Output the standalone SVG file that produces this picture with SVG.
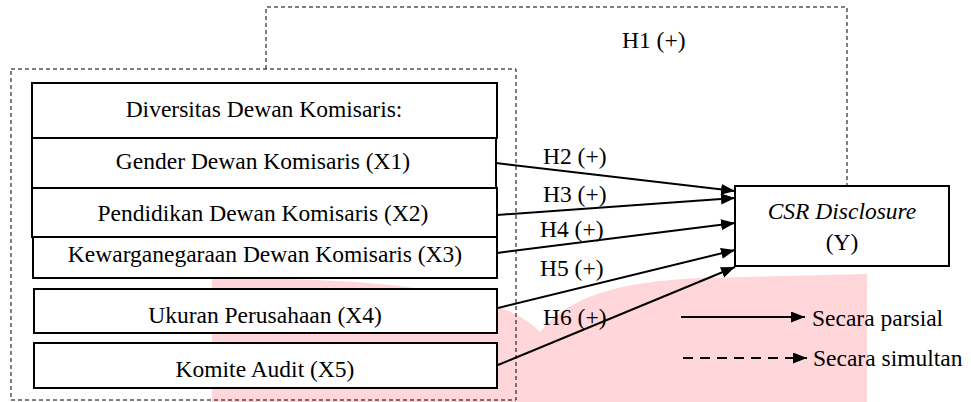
<svg xmlns="http://www.w3.org/2000/svg" width="971" height="402" viewBox="0 0 971 402">
<style>
  text { font-family: "Liberation Serif", "Times New Roman", serif; font-size: 23.5px; fill: #000; }
  .box { fill: #fff; stroke: #000; stroke-width: 2; }
  .dash { fill: none; stroke: #000; stroke-width: 1; stroke-dasharray: 4 3; }
  .arr { fill: none; stroke: #000; stroke-width: 2; marker-end: url(#ah); }
  .mid { text-anchor: middle; }
</style>
<defs>
  <marker id="ah" markerUnits="userSpaceOnUse" markerWidth="15" markerHeight="12" refX="14" refY="5.5" orient="auto">
    <path d="M0,0 L14,5.5 L0,11 Z" fill="#000"/>
  </marker>
</defs>
<rect width="971" height="402" fill="#fff"/>
<path d="M212,278 C380,278 500,290 540,332 C570,295 620,282 700,278 L867,274 L867,402 L212,402 Z" fill="#FFD6D9"/>

<g id="simultan-frame">
  <rect class="dash" x="11" y="69" width="505" height="331"/>
</g>

<g id="node-diversitas">
  <rect class="box" x="32" y="83" width="465" height="55"/>
  <text class="mid" x="264" y="117">Diversitas Dewan Komisaris:</text>
</g>
<g id="node-x1">
  <rect class="box" x="32" y="138" width="464" height="50"/>
  <text class="mid" x="263" y="169">Gender Dewan Komisaris (X1)</text>
</g>
<g id="node-x2">
  <rect class="box" x="32" y="188" width="465" height="49"/>
  <text class="mid" x="263" y="221">Pendidikan Dewan Komisaris (X2)</text>
</g>
<g id="node-x3">
  <rect class="box" x="33" y="237" width="464" height="41"/>
  <text class="mid" x="265" y="262">Kewarganegaraan Dewan Komisaris (X3)</text>
</g>
<g id="node-x4">
  <rect class="box" x="34" y="289" width="463" height="44"/>
  <text class="mid" x="265" y="323">Ukuran Perusahaan (X4)</text>
</g>
<g id="node-x5">
  <rect class="box" x="34" y="343" width="463" height="45"/>
  <text class="mid" x="265" y="377">Komite Audit (X5)</text>
</g>
<g id="node-y">
  <rect class="box" x="735" y="186" width="214" height="80"/>
  <text class="mid" x="842" y="219" font-style="italic">CSR Disclosure</text>
  <text class="mid" x="842" y="250">(Y)</text>
</g>

<g id="connectors">
  <path class="dash" d="M266,69 V7 H847 V186"/>
  <line class="arr" x1="496" y1="163" x2="735" y2="191"/>
  <line class="arr" x1="497" y1="215" x2="735" y2="198"/>
  <line class="arr" x1="497" y1="253" x2="735" y2="223"/>
  <line class="arr" x1="498" y1="308" x2="735" y2="250"/>
  <line class="arr" x1="498" y1="365" x2="735" y2="267"/>
  <text x="622" y="48">H1 (+)</text>
  <text x="543" y="164">H2 (+)</text>
  <text x="543" y="202">H3 (+)</text>
  <text x="540" y="237">H4 (+)</text>
  <text x="540" y="276">H5 (+)</text>
  <text x="543" y="325">H6 (+)</text>
</g>

<g id="legend">
  <line class="arr" x1="681" y1="317" x2="805" y2="317"/>
  <text x="812" y="326">Secara parsial</text>
  <line class="arr" x1="683" y1="358" x2="807" y2="358" stroke-dasharray="10 7"/>
  <text x="813" y="366">Secara simultan</text>
</g>
</svg>
